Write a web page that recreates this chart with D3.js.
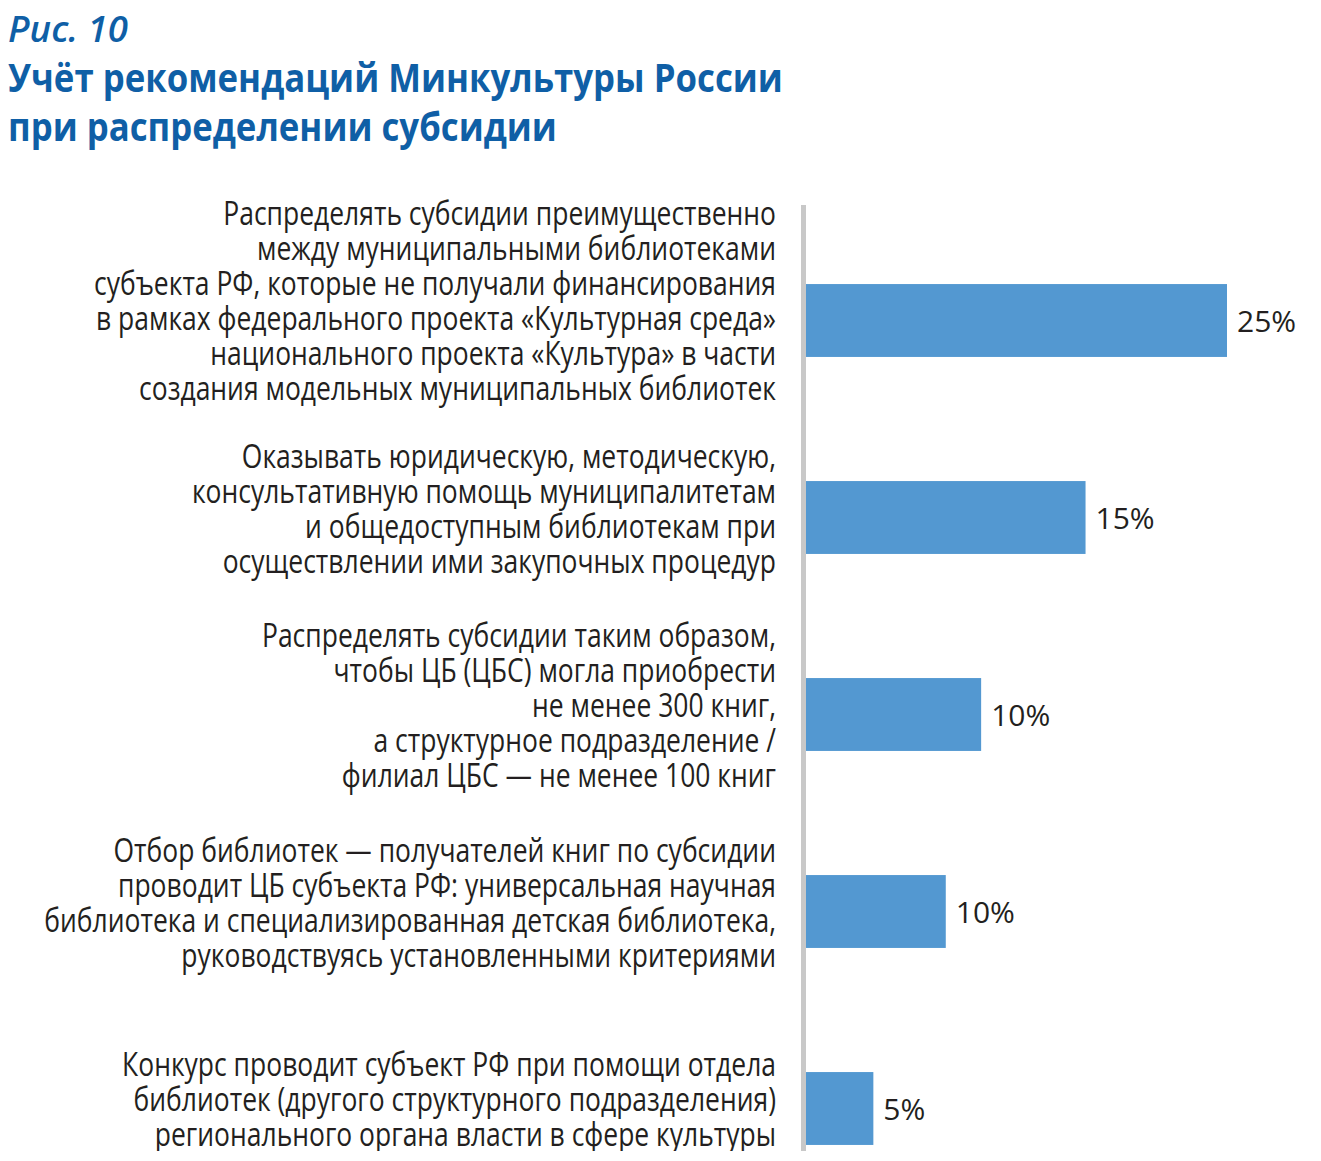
<!DOCTYPE html>
<html>
<head>
<meta charset="utf-8">
<script src="https://cdn.jsdelivr.net/npm/d3@7"></script>
<style>
    body { margin: 0; background: #fff; }
    svg { display: block; overflow: hidden; }
</style>
</head>
<body>
<script>
// Chart data
var categories = [
    ["Распределять субсидии преимущественно",
     "между муниципальными библиотеками",
     "субъекта РФ, которые не получали финансирования",
     "в рамках федерального проекта «Культурная среда»",
     "национального проекта «Культура» в части",
     "создания модельных муниципальных библиотек"],
    ["Оказывать юридическую, методическую,",
     "консультативную помощь муниципалитетам",
     "и общедоступным библиотекам при",
     "осуществлении ими закупочных процедур"],
    ["Распределять субсидии таким образом,",
     "чтобы ЦБ (ЦБС) могла приобрести",
     "не менее 300 книг,",
     "а структурное подразделение /",
     "филиал ЦБС — не менее 100 книг"],
    ["Отбор библиотек — получателей книг по субсидии",
     "проводит ЦБ субъекта РФ: универсальная научная",
     "библиотека и специализированная детская библиотека,",
     "руководствуясь установленными критериями"],
    ["Конкурс проводит субъект РФ при помощи отдела",
     "библиотек (другого структурного подразделения)",
     "регионального органа власти в сфере культуры"]
];
var values = [25, 16.6, 10.4, 8.3, 4.0];          // bar lengths
var valueLabels = ["25%", "15%", "10%", "10%", "5%"]; // printed labels

var w = 1321, h = 1151;
var font = "'Open Sans', 'Noto Sans', sans-serif";

var svg = d3.select("body").append("svg")
    .attr("width", w)
    .attr("height", h);

// Title block
var title = svg.append("g").attr("class", "title")
    .style("fill", "#0f5fa6")
    .style("font-family", font);

var fig = title.append("text")
    .attr("x", 0).attr("y", 42)
    .style("font-size", "36px")
    .style("font-style", "italic")
    .style("font-weight", 600)
    .text("Рис. 10");
var figW = fig.node().getComputedTextLength();
fig.attr("transform", "translate(8,0) scale(" + (120 / figW) + ",1)");

var t1 = title.append("text")
    .attr("x", 0).attr("y", 92)
    .style("font-size", "40px")
    .style("font-weight", 700)
    .text("Учёт рекомендаций Минкультуры России");
var t2 = title.append("text")
    .attr("x", 0).attr("y", 141)
    .style("font-size", "40px")
    .style("font-weight", 700)
    .text("при распределении субсидии");
var tk = 775 / t1.node().getComputedTextLength();
t1.attr("transform", "translate(8,0) scale(" + tk + ",1)");
t2.attr("transform", "translate(8,0) scale(" + tk + ",1)");

// Scales
var x = d3.scaleLinear()
    .domain([0, 25])
    .range([806, 1227]);

var y = d3.scaleBand()
    .domain(d3.range(categories.length))
    .range([222, 1207])
    .paddingInner(0.63)
    .paddingOuter(0.315);

// Vertical axis line
svg.append("line")
    .attr("class", "axis")
    .attr("x1", x(0) - 2.5).attr("x2", x(0) - 2.5)
    .attr("y1", 205).attr("y2", h)
    .style("stroke", "#c8c8c8")
    .style("stroke-width", 5);

// Bars
svg.selectAll(".bar")
    .data(values)
    .enter()
    .append("rect")
    .attr("class", "bar")
    .attr("x", x(0))
    .attr("y", function(d, i){ return y(i); })
    .attr("width", function(d){ return x(d) - x(0); })
    .attr("height", y.bandwidth())
    .style("fill", "#5398d1");

// Value labels
svg.selectAll(".value")
    .data(values)
    .enter()
    .append("text")
    .attr("class", "value")
    .attr("x", function(d){ return x(d) + 10; })
    .attr("y", function(d, i){ return y(i) + y.bandwidth() / 2 + 11; })
    .style("font-family", font)
    .style("font-size", "30px")
    .style("fill", "#231f20")
    .text(function(d, i){ return valueLabels[i]; });

// Category labels, right aligned against the axis
var lineH = 35;
var labels = svg.selectAll(".label")
    .data(categories)
    .enter()
    .append("text")
    .attr("class", "label")
    .attr("text-anchor", "end")
    .style("font-family", font)
    .style("font-size", "32px")
    .style("fill", "#231f20");

labels.each(function(lines, i){
    // long blocks sit a little higher than their bar
    var shift = lines.length > 5 ? -18 : -7;
    var cy = y(i) + y.bandwidth() / 2 + shift;
    var top = cy - (lines.length - 1) * lineH / 2 + 10;
    d3.select(this).selectAll("tspan")
        .data(lines)
        .enter()
        .append("tspan")
        .attr("x", 0)
        .attr("y", function(d, j){ return top + j * lineH; })
        .text(function(d){ return d; });
});

// Condense the label font so the longest line matches the original width
var maxW = 0;
labels.selectAll("tspan").each(function(){
    maxW = Math.max(maxW, this.getComputedTextLength());
});
var lk = 732 / maxW;
labels.attr("transform", "translate(776,0) scale(" + lk + ",1)");
</script>
</body>
</html>
